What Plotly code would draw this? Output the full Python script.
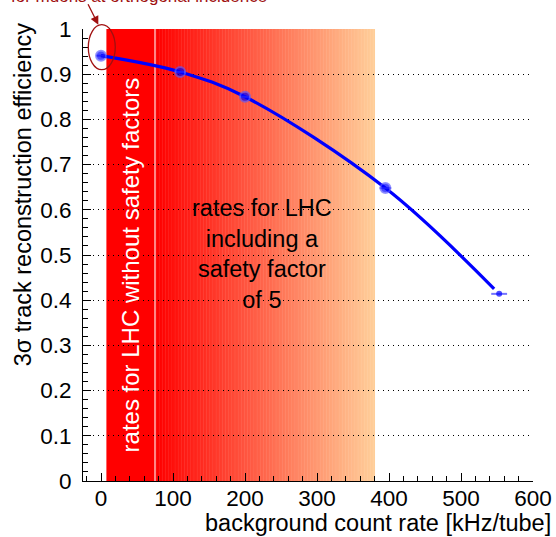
import plotly.graph_objects as go
import numpy as np

# ---- data ----
rate = [0, 110, 200, 395, 553]
eff = [0.941, 0.905, 0.850, 0.648, 0.414]
rate_err = [7, 7, 7, 8, 11]

fit_rate = [0, 110, 200, 395, 546]
fit_eff = [0.941, 0.905, 0.850, 0.648, 0.425]

solid_band = [7.5, 75]        # rates for LHC without safety factors
gradient_band = [75, 380]     # rates for LHC including safety factor 5

x_ticks = [0, 100, 200, 300, 400, 500, 600]
y_ticks = [0, 0.1, 0.2, 0.3, 0.4, 0.5, 0.6, 0.7, 0.8, 0.9, 1]

FONT = "Liberation Sans, Arial, sans-serif"
DARKRED = "#a01010"

fig = go.Figure()

shapes = []
# solid red band
shapes.append(dict(type="rect", xref="x", yref="y", x0=solid_band[0], x1=solid_band[1],
                   y0=0, y1=1, fillcolor="#ff0000", line_width=0, layer="below"))
# gradient band
N = 150
edges = np.linspace(gradient_band[0], gradient_band[1], N + 1)
c0 = np.array([255, 0, 0])
c1 = np.array([255, 206, 153])
for i in range(N):
    t = i / (N - 1)
    c = c0 + (c1 - c0) * t
    shapes.append(dict(type="rect", xref="x", yref="y", x0=edges[i], x1=edges[i + 1] + 0.6,
                       y0=0, y1=1, fillcolor="rgb(%d,%d,%d)" % tuple(c.round()),
                       line_width=0, layer="below"))
# white separator line
shapes.append(dict(type="line", xref="x", yref="y", x0=solid_band[1], x1=solid_band[1],
                   y0=0, y1=1, line=dict(color="rgba(255,225,225,1)", width=1.2), layer="below"))
# ellipse around first point
shapes.append(dict(type="circle", xref="paper", yref="paper", x0=0.0118, x1=0.0717,
                   y0=0.91, y1=1.0095, line=dict(color=DARKRED, width=1.3)))

fig.add_trace(go.Scatter(x=fit_rate, y=fit_eff, mode="lines", line=dict(color="#0000ff", width=3.2,
                         shape="spline", smoothing=1.0), hoverinfo="skip", showlegend=False))
fig.add_trace(go.Scatter(x=rate, y=eff, mode="markers",
                         marker=dict(color="#0000ff", size=[10, 10, 10, 10, 6],
                                     line=dict(color="rgba(90,90,255,0.9)", width=[2, 2, 2, 2, 0])),
                         error_x=dict(type="data", array=rate_err, color="rgba(100,100,255,0.9)",
                                      thickness=2, width=0),
                         showlegend=False))

annotations = [
    dict(text="rates for LHC without safety factors", x=41, y=0.478, xref="x", yref="y",
         xanchor="center", yanchor="middle",
         textangle=-90, showarrow=False, font=dict(family=FONT, size=24, color="white")),
    dict(text="rates for LHC<br>including a<br>safety factor<br>of 5", x=224, y=0.502,
         xref="x", yref="y", xanchor="center", yanchor="middle", showarrow=False,
         font=dict(family=FONT, size=23.5, color="black")),
    dict(text="for muons at orthogonal incidence", x=0.1245, y=1.071, xref="paper", yref="paper",
         xanchor="center", yanchor="middle",
         showarrow=False, font=dict(family=FONT, size=17, color=DARKRED)),
    dict(text="", x=0.034, y=1.0095, xref="paper", yref="paper", showarrow=True,
         ax=-11, ay=-22, arrowhead=2, arrowsize=1.3, arrowwidth=1.3, arrowcolor=DARKRED),
    dict(text="background count rate [kHz/tube]", x=1.0437, y=-0.094, xref="paper", yref="paper",
         xanchor="right", yanchor="middle", showarrow=False,
         font=dict(family=FONT, size=23.5, color="black")),
    dict(text="3σ track reconstruction efficiency", x=-0.1347, y=0.633, xref="paper", yref="paper",
         textangle=-90, xanchor="center", yanchor="middle", showarrow=False,
         font=dict(family=FONT, size=23.5, color="black")),
]

fig.update_layout(
    width=556, height=537,
    margin=dict(l=83, r=23, t=29, b=56),
    paper_bgcolor="white", plot_bgcolor="white",
    shapes=shapes, annotations=annotations,
    font=dict(family=FONT, size=22.5, color="black"),
    xaxis=dict(range=[-25, 600], tickvals=x_ticks, ticks="inside", ticklen=8, tickcolor="black",
               showline=True, linecolor="black", linewidth=1, showgrid=False, zeroline=False,
               automargin=False, ticklabelstandoff=-3,
               minor=dict(dtick=20, ticks="inside", ticklen=5, tickcolor="black"),
               tickfont=dict(family=FONT, size=22.5)),
    yaxis=dict(range=[0, 1], tickvals=y_ticks, ticks="inside", ticklen=8, tickcolor="black",
               showline=True, linecolor="black", linewidth=1, showgrid=True, gridcolor="black",
               griddash="1px,4px", gridwidth=1, zeroline=False, automargin=False,
               ticklabelstandoff=6,
               minor=dict(dtick=0.02, ticks="inside", ticklen=5, tickcolor="black"),
               tickfont=dict(family=FONT, size=22.5)),
)

fig.write_html("out.html")
